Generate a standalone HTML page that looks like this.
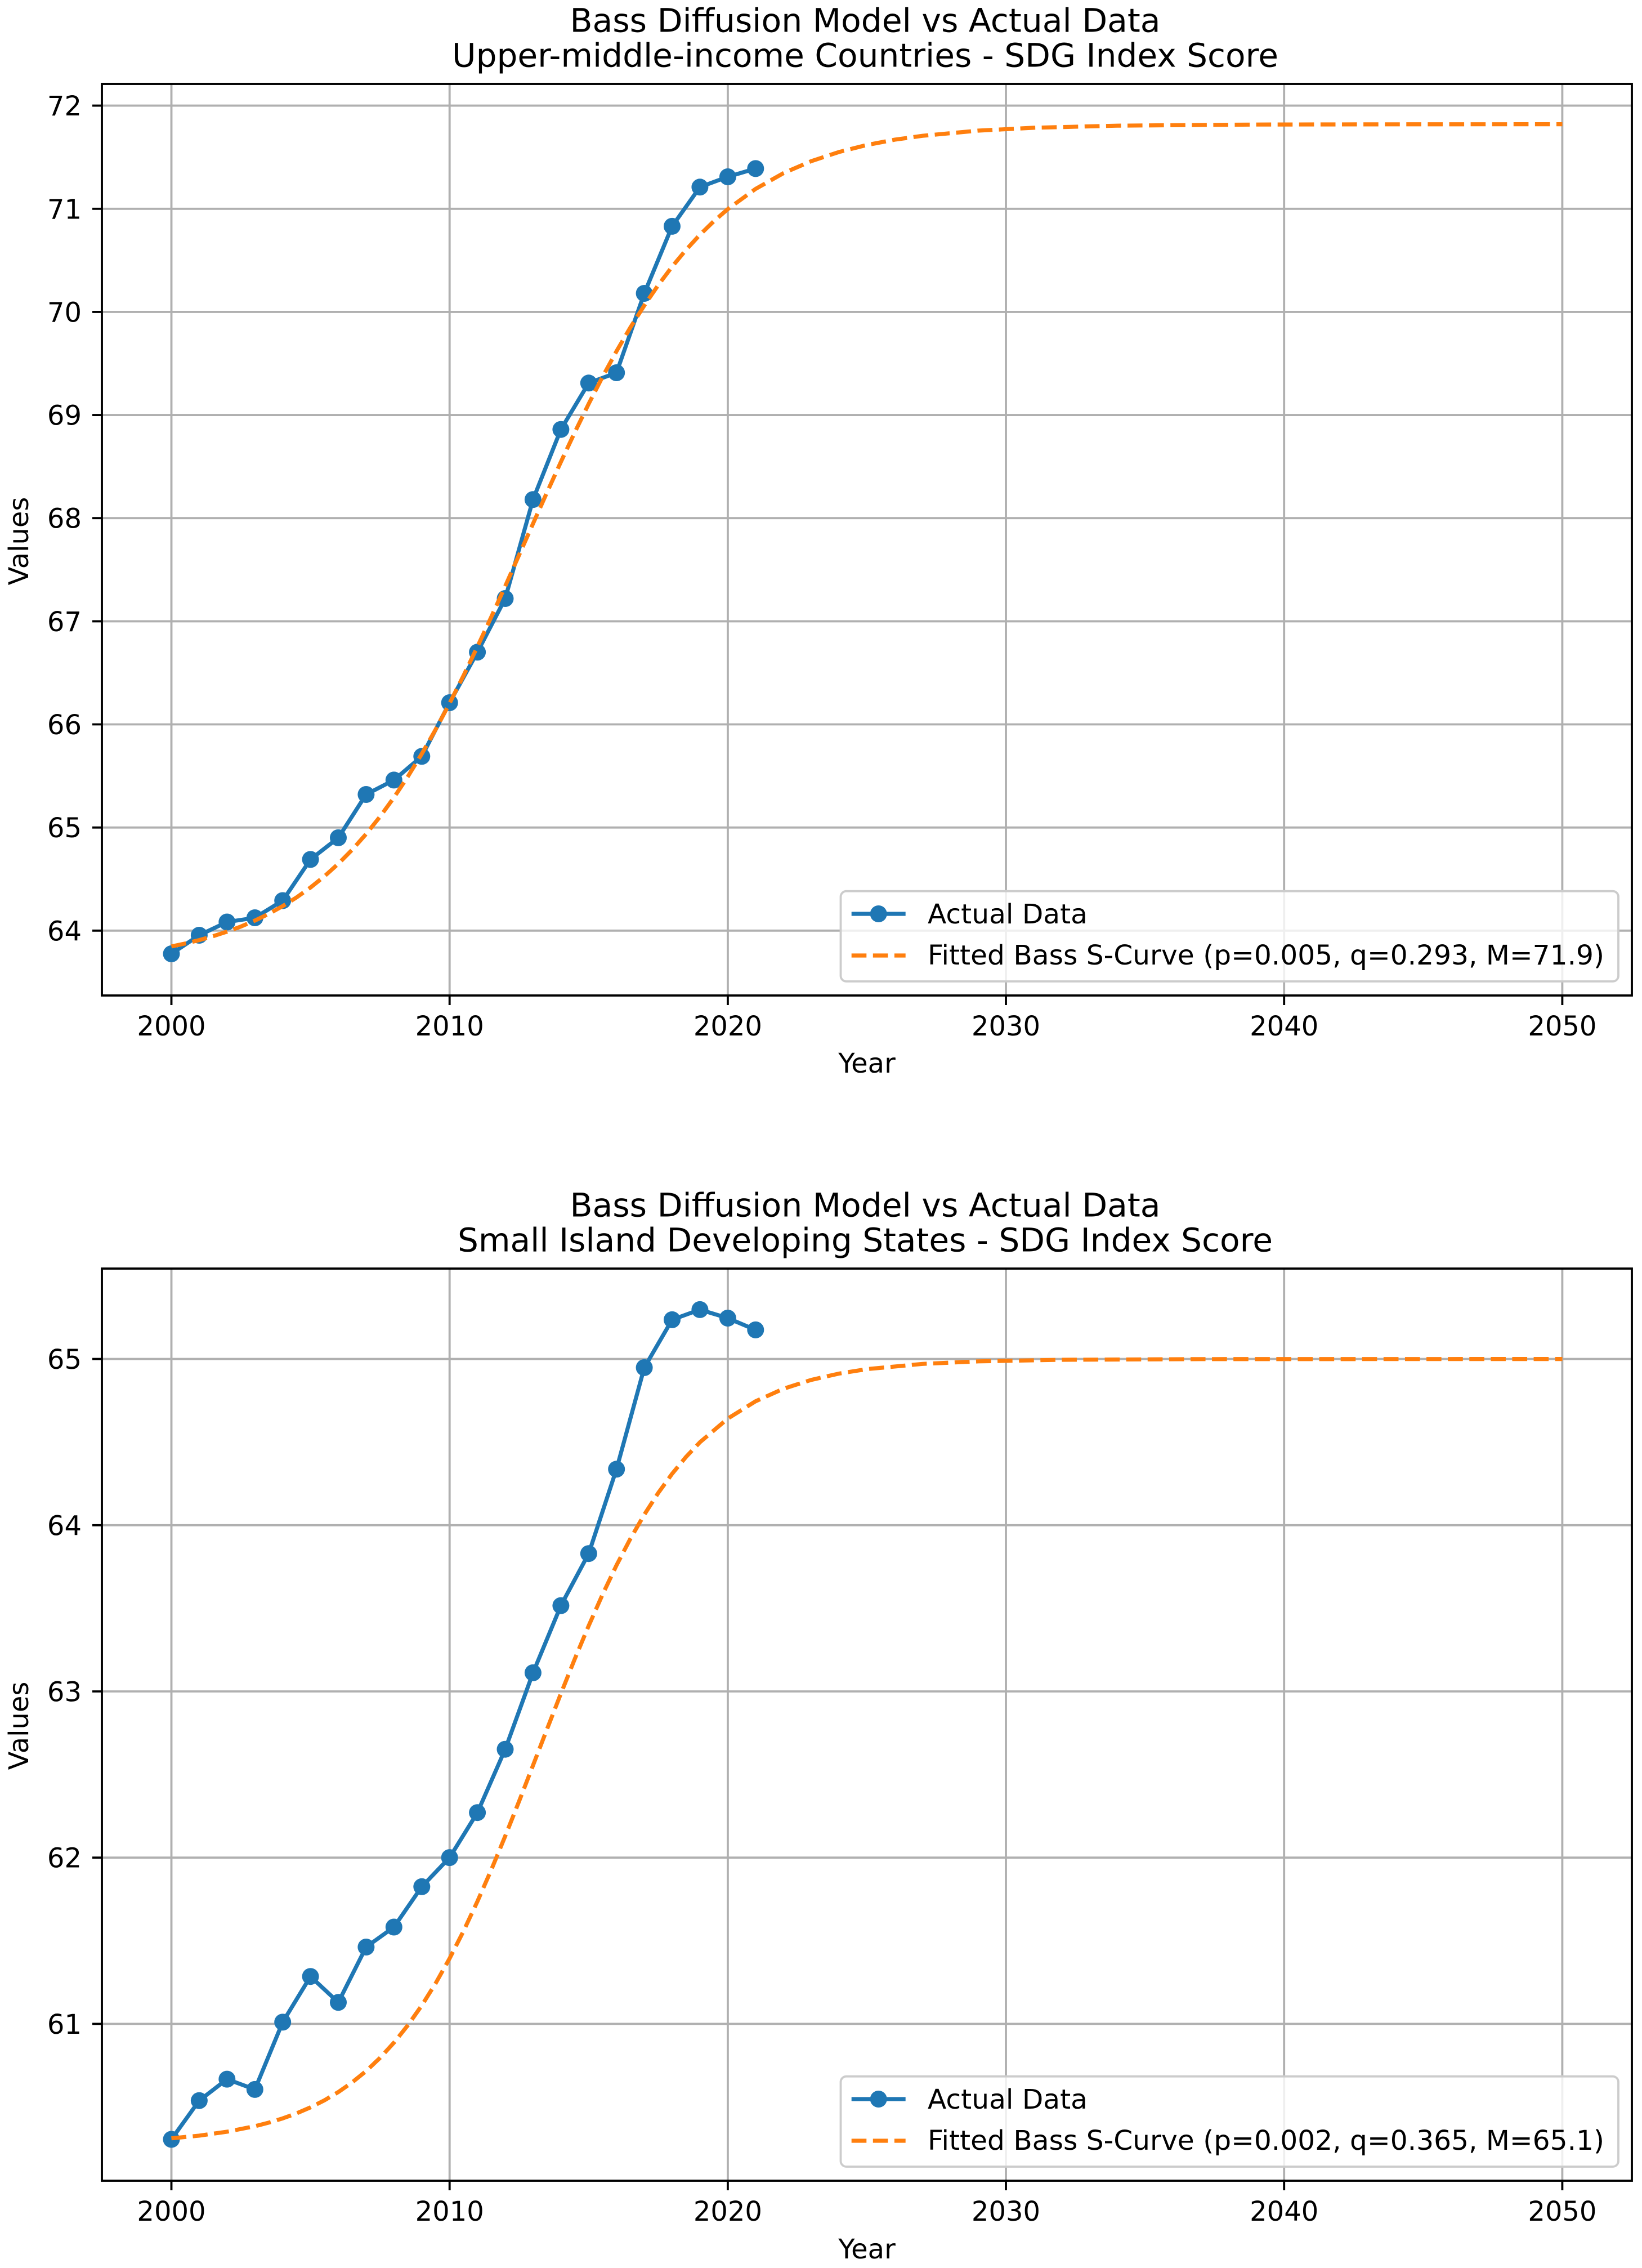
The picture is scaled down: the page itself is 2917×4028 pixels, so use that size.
<!DOCTYPE html>
<html>
<head>
<meta charset="utf-8">
<style>
html,body{margin:0;padding:0;background:#ffffff;}
svg{display:block;}
</style>
</head>
<body>
<svg xmlns="http://www.w3.org/2000/svg" width="2917" height="4028" viewBox="0 0 2917 4028" font-family="'DejaVu Sans', 'Liberation Sans', sans-serif">
<rect x="0" y="0" width="2917" height="4028" fill="#ffffff"/>

<!-- ================= TOP CHART ================= -->
<text x="1537" y="56.7" font-size="57.6" text-anchor="middle" fill="#000" textLength="1049" lengthAdjust="spacingAndGlyphs">Bass Diffusion Model vs Actual Data</text>
<text x="1537" y="118.3" font-size="57.6" text-anchor="middle" fill="#000" textLength="1468" lengthAdjust="spacingAndGlyphs">Upper-middle-income Countries - SDG Index Score</text>

<rect x="181" y="149" width="2718" height="1619" fill="#ffffff"/>
<g stroke="#b0b0b0" stroke-width="3.84" fill="none">
  <line x1="304.5" y1="149" x2="304.5" y2="1768"/>
  <line x1="798.7" y1="149" x2="798.7" y2="1768"/>
  <line x1="1292.9" y1="149" x2="1292.9" y2="1768"/>
  <line x1="1787.0" y1="149" x2="1787.0" y2="1768"/>
  <line x1="2281.2" y1="149" x2="2281.2" y2="1768"/>
  <line x1="2775.4" y1="149" x2="2775.4" y2="1768"/>
  <line x1="181" y1="187.6" x2="2899" y2="187.6"/>
  <line x1="181" y1="370.8" x2="2899" y2="370.8"/>
  <line x1="181" y1="553.9" x2="2899" y2="553.9"/>
  <line x1="181" y1="737.1" x2="2899" y2="737.1"/>
  <line x1="181" y1="920.2" x2="2899" y2="920.2"/>
  <line x1="181" y1="1103.4" x2="2899" y2="1103.4"/>
  <line x1="181" y1="1286.5" x2="2899" y2="1286.5"/>
  <line x1="181" y1="1469.7" x2="2899" y2="1469.7"/>
  <line x1="181" y1="1652.8" x2="2899" y2="1652.8"/>
</g>

<!-- actual data top -->
<polyline fill="none" stroke="#1f77b4" stroke-width="7.2" stroke-linejoin="round" stroke-linecap="round"
points="304.5,1694 353.9,1661 403.3,1637.5 452.8,1630 502.2,1599.5 551.6,1526.4 601.0,1487.9 650.4,1411.0 699.8,1385.4 749.3,1343.3 798.7,1248.0 848.1,1158.3 897.5,1063.0 946.9,887.2 996.4,762.7 1045.8,680.3 1095.2,662.0 1144.6,521.0 1194.0,401.9 1243.4,332.3 1292.9,314.0 1342.3,299.4"/>
<g fill="#1f77b4">
  <circle cx="304.5" cy="1694" r="15"/><circle cx="353.9" cy="1661" r="15"/><circle cx="403.3" cy="1637.5" r="15"/>
  <circle cx="452.8" cy="1630" r="15"/><circle cx="502.2" cy="1599.5" r="15"/><circle cx="551.6" cy="1526.4" r="15"/>
  <circle cx="601.0" cy="1487.9" r="15"/><circle cx="650.4" cy="1411.0" r="15"/><circle cx="699.8" cy="1385.4" r="15"/>
  <circle cx="749.3" cy="1343.3" r="15"/><circle cx="798.7" cy="1248.0" r="15"/><circle cx="848.1" cy="1158.3" r="15"/>
  <circle cx="897.5" cy="1063.0" r="15"/><circle cx="946.9" cy="887.2" r="15"/><circle cx="996.4" cy="762.7" r="15"/>
  <circle cx="1045.8" cy="680.3" r="15"/><circle cx="1095.2" cy="662.0" r="15"/><circle cx="1144.6" cy="521.0" r="15"/>
  <circle cx="1194.0" cy="401.9" r="15"/><circle cx="1243.4" cy="332.3" r="15"/><circle cx="1292.9" cy="314.0" r="15"/>
  <circle cx="1342.3" cy="299.4" r="15"/>
</g>

<!-- fitted top -->
<polyline fill="none" stroke="#ff7f0e" stroke-width="7.2" stroke-dasharray="26.6 11.5"
points="304.5,1680.9 329.3,1675.6 354.0,1669.6 378.7,1662.6 403.4,1654.6 428.1,1645.5 452.8,1635.0 477.5,1623.0 502.2,1609.3 526.9,1593.8 551.6,1576.2 576.3,1556.3 601.1,1534.0 625.8,1509.0 650.5,1481.1 675.2,1450.3 699.9,1416.3 724.6,1379.1 749.3,1338.8 774.0,1295.4 798.7,1249.0 823.4,1200.0 848.1,1148.6 872.9,1095.4 897.6,1040.8 922.3,985.4 947.0,929.8 971.7,874.6 996.4,820.4 1021.1,767.8 1045.8,717.2 1070.5,669.1 1095.2,623.8 1119.9,581.5 1144.7,542.3 1169.4,506.3 1194.1,473.4 1218.8,443.7 1243.5,416.8 1268.2,392.8 1292.9,371.4 1342.3,335.5 1391.7,307.6 1441.2,286.2 1490.6,269.9 1540.0,257.5 1589.4,248.1 1638.8,241.2 1737.7,232.0 1836.5,226.9 1984.8,223.2 2231.9,221.2 2479.0,220.8 2775.5,220.6"/>

<!-- spines top -->
<rect x="181" y="149" width="2718" height="1619" fill="none" stroke="#000" stroke-width="3.84"/>

<!-- ticks top -->
<g stroke="#000" stroke-width="3.84">
  <line x1="304.5" y1="1768" x2="304.5" y2="1785"/>
  <line x1="798.7" y1="1768" x2="798.7" y2="1785"/>
  <line x1="1292.9" y1="1768" x2="1292.9" y2="1785"/>
  <line x1="1787.0" y1="1768" x2="1787.0" y2="1785"/>
  <line x1="2281.2" y1="1768" x2="2281.2" y2="1785"/>
  <line x1="2775.4" y1="1768" x2="2775.4" y2="1785"/>
  <line x1="164" y1="187.6" x2="181" y2="187.6"/>
  <line x1="164" y1="370.8" x2="181" y2="370.8"/>
  <line x1="164" y1="553.9" x2="181" y2="553.9"/>
  <line x1="164" y1="737.1" x2="181" y2="737.1"/>
  <line x1="164" y1="920.2" x2="181" y2="920.2"/>
  <line x1="164" y1="1103.4" x2="181" y2="1103.4"/>
  <line x1="164" y1="1286.5" x2="181" y2="1286.5"/>
  <line x1="164" y1="1469.7" x2="181" y2="1469.7"/>
  <line x1="164" y1="1652.8" x2="181" y2="1652.8"/>
</g>
<g font-size="48" fill="#000" text-anchor="middle">
  <text x="304.5" y="1839">2000</text>
  <text x="798.7" y="1839">2010</text>
  <text x="1292.9" y="1839">2020</text>
  <text x="1787.0" y="1839">2030</text>
  <text x="2281.2" y="1839">2040</text>
  <text x="2775.4" y="1839">2050</text>
</g>
<g font-size="48" fill="#000" text-anchor="end">
  <text x="145" y="205.1">72</text>
  <text x="145" y="388.3">71</text>
  <text x="145" y="571.4">70</text>
  <text x="145" y="754.6">69</text>
  <text x="145" y="937.7">68</text>
  <text x="145" y="1120.9">67</text>
  <text x="145" y="1304.0">66</text>
  <text x="145" y="1487.2">65</text>
  <text x="145" y="1670.3">64</text>
</g>
<text x="1540" y="1905" font-size="48" text-anchor="middle" fill="#000">Year</text>
<text transform="translate(50,961) rotate(-90)" font-size="48" text-anchor="middle" fill="#000">Values</text>

<!-- legend top -->
<rect x="1493.5" y="1582.7" width="1381.5" height="160.3" rx="10" ry="10" fill="#ffffff" fill-opacity="0.8" stroke="#cccccc" stroke-width="3.8"/>
<line x1="1512.7" y1="1623" x2="1608.7" y2="1623" stroke="#1f77b4" stroke-width="7.2"/>
<circle cx="1560.7" cy="1623" r="15" fill="#1f77b4"/>
<text x="1648" y="1640" font-size="48" fill="#000" textLength="284" lengthAdjust="spacingAndGlyphs">Actual Data</text>
<line x1="1512.7" y1="1697" x2="1608.7" y2="1697" stroke="#ff7f0e" stroke-width="7.2" stroke-dasharray="26.6 11.5"/>
<text x="1648" y="1713" font-size="48" fill="#000" textLength="1202" lengthAdjust="spacingAndGlyphs">Fitted Bass S-Curve (p=0.005, q=0.293, M=71.9)</text>

<!-- ================= BOTTOM CHART ================= -->
<text x="1537" y="2160.7" font-size="57.6" text-anchor="middle" fill="#000" textLength="1049" lengthAdjust="spacingAndGlyphs">Bass Diffusion Model vs Actual Data</text>
<text x="1537" y="2222.3" font-size="57.6" text-anchor="middle" fill="#000" textLength="1448" lengthAdjust="spacingAndGlyphs">Small Island Developing States - SDG Index Score</text>

<rect x="181" y="2253" width="2718" height="1620" fill="#ffffff"/>
<g stroke="#b0b0b0" stroke-width="3.84" fill="none">
  <line x1="304.5" y1="2253" x2="304.5" y2="3873"/>
  <line x1="798.7" y1="2253" x2="798.7" y2="3873"/>
  <line x1="1292.9" y1="2253" x2="1292.9" y2="3873"/>
  <line x1="1787.0" y1="2253" x2="1787.0" y2="3873"/>
  <line x1="2281.2" y1="2253" x2="2281.2" y2="3873"/>
  <line x1="2775.4" y1="2253" x2="2775.4" y2="3873"/>
  <line x1="181" y1="2413.6" x2="2899" y2="2413.6"/>
  <line x1="181" y1="2708.8" x2="2899" y2="2708.8"/>
  <line x1="181" y1="3004.0" x2="2899" y2="3004.0"/>
  <line x1="181" y1="3299.2" x2="2899" y2="3299.2"/>
  <line x1="181" y1="3594.4" x2="2899" y2="3594.4"/>
</g>

<!-- actual data bottom -->
<polyline fill="none" stroke="#1f77b4" stroke-width="7.2" stroke-linejoin="round" stroke-linecap="round"
points="304.5,3799.5 353.9,3730.7 403.3,3692.6 452.8,3710.9 502.2,3591.4 551.6,3510.2 601.0,3556.3 650.4,3458.0 699.8,3422.5 749.3,3350.8 798.7,3299.1 848.1,3219.2 897.5,3106.7 946.9,2970.9 996.4,2851.6 1045.8,2759.2 1095.2,2609.3 1144.6,2428.9 1194.0,2343.9 1243.4,2325.9 1292.9,2341.0 1342.3,2361.9"/>
<g fill="#1f77b4">
  <circle cx="304.5" cy="3799.5" r="15"/><circle cx="353.9" cy="3730.7" r="15"/><circle cx="403.3" cy="3692.6" r="15"/>
  <circle cx="452.8" cy="3710.9" r="15"/><circle cx="502.2" cy="3591.4" r="15"/><circle cx="551.6" cy="3510.2" r="15"/>
  <circle cx="601.0" cy="3556.3" r="15"/><circle cx="650.4" cy="3458.0" r="15"/><circle cx="699.8" cy="3422.5" r="15"/>
  <circle cx="749.3" cy="3350.8" r="15"/><circle cx="798.7" cy="3299.1" r="15"/><circle cx="848.1" cy="3219.2" r="15"/>
  <circle cx="897.5" cy="3106.7" r="15"/><circle cx="946.9" cy="2970.9" r="15"/><circle cx="996.4" cy="2851.6" r="15"/>
  <circle cx="1045.8" cy="2759.2" r="15"/><circle cx="1095.2" cy="2609.3" r="15"/><circle cx="1144.6" cy="2428.9" r="15"/>
  <circle cx="1194.0" cy="2343.9" r="15"/><circle cx="1243.4" cy="2325.9" r="15"/><circle cx="1292.9" cy="2341.0" r="15"/>
  <circle cx="1342.3" cy="2361.9" r="15"/>
</g>

<!-- fitted bottom -->
<polyline fill="none" stroke="#ff7f0e" stroke-width="7.2" stroke-dasharray="26.6 11.5"
points="304.5,3797.7 354.0,3792.9 403.4,3786.0 452.8,3776.2 477.5,3769.8 502.2,3762.3 526.9,3753.4 551.6,3742.7 576.3,3730.2 601.1,3715.5 625.8,3698.2 650.5,3678.1 675.2,3654.7 699.9,3627.7 724.6,3596.8 749.3,3561.7 774.0,3522.2 798.7,3478.2 823.4,3429.7 848.1,3377.0 872.9,3320.5 897.6,3260.8 922.3,3198.7 947.0,3135.1 971.7,3071.2 996.4,3007.9 1021.1,2946.3 1045.8,2887.4 1070.5,2831.7 1095.2,2780.0 1119.9,2732.7 1144.7,2689.8 1169.4,2651.4 1194.1,2617.3 1218.8,2587.4 1243.5,2561.4 1292.9,2519.4 1342.3,2488.7 1391.7,2466.5 1441.2,2450.7 1490.6,2439.5 1540.0,2431.6 1638.8,2422.3 1737.7,2417.8 1885.9,2415.0 2133.0,2413.8 2775.5,2413.6"/>

<!-- spines bottom -->
<rect x="181" y="2253" width="2718" height="1620" fill="none" stroke="#000" stroke-width="3.84"/>

<!-- ticks bottom -->
<g stroke="#000" stroke-width="3.84">
  <line x1="304.5" y1="3873" x2="304.5" y2="3890"/>
  <line x1="798.7" y1="3873" x2="798.7" y2="3890"/>
  <line x1="1292.9" y1="3873" x2="1292.9" y2="3890"/>
  <line x1="1787.0" y1="3873" x2="1787.0" y2="3890"/>
  <line x1="2281.2" y1="3873" x2="2281.2" y2="3890"/>
  <line x1="2775.4" y1="3873" x2="2775.4" y2="3890"/>
  <line x1="164" y1="2413.6" x2="181" y2="2413.6"/>
  <line x1="164" y1="2708.8" x2="181" y2="2708.8"/>
  <line x1="164" y1="3004.0" x2="181" y2="3004.0"/>
  <line x1="164" y1="3299.2" x2="181" y2="3299.2"/>
  <line x1="164" y1="3594.4" x2="181" y2="3594.4"/>
</g>
<g font-size="48" fill="#000" text-anchor="middle">
  <text x="304.5" y="3944">2000</text>
  <text x="798.7" y="3944">2010</text>
  <text x="1292.9" y="3944">2020</text>
  <text x="1787.0" y="3944">2030</text>
  <text x="2281.2" y="3944">2040</text>
  <text x="2775.4" y="3944">2050</text>
</g>
<g font-size="48" fill="#000" text-anchor="end">
  <text x="145" y="2431.1">65</text>
  <text x="145" y="2726.3">64</text>
  <text x="145" y="3021.5">63</text>
  <text x="145" y="3316.7">62</text>
  <text x="145" y="3611.9">61</text>
</g>
<text x="1540" y="4011" font-size="48" text-anchor="middle" fill="#000">Year</text>
<text transform="translate(50,3065) rotate(-90)" font-size="48" text-anchor="middle" fill="#000">Values</text>

<!-- legend bottom -->
<rect x="1493.5" y="3687.7" width="1381.5" height="160.3" rx="10" ry="10" fill="#ffffff" fill-opacity="0.8" stroke="#cccccc" stroke-width="3.8"/>
<line x1="1512.7" y1="3728" x2="1608.7" y2="3728" stroke="#1f77b4" stroke-width="7.2"/>
<circle cx="1560.7" cy="3728" r="15" fill="#1f77b4"/>
<text x="1648" y="3745" font-size="48" fill="#000" textLength="284" lengthAdjust="spacingAndGlyphs">Actual Data</text>
<line x1="1512.7" y1="3802" x2="1608.7" y2="3802" stroke="#ff7f0e" stroke-width="7.2" stroke-dasharray="26.6 11.5"/>
<text x="1648" y="3818" font-size="48" fill="#000" textLength="1202" lengthAdjust="spacingAndGlyphs">Fitted Bass S-Curve (p=0.002, q=0.365, M=65.1)</text>
</svg>
</body>
</html>
